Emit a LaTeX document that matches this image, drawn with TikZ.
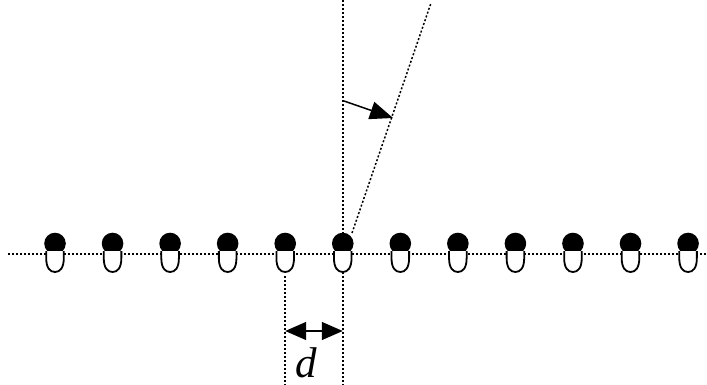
\documentclass[tikz,border=0pt]{standalone}
\usepackage{fontspec}
\setmainfont{Liberation Serif}
\usetikzlibrary{arrows.meta}
\tikzset{every picture/.style={line width=1.5pt}}
\tikzset{
  axis/.style={dash pattern=on 2pt off 2pt},
  bigtip/.style={-{Triangle[length=23pt,width=18pt]}},
  twotip/.style={{Triangle[length=21pt,width=18pt]}-{Triangle[length=21pt,width=18pt]}},
}

\begin{document}
\begin{tikzpicture}[x=1pt,y=-1pt]
\useasboundingbox (0,0) rectangle (707,385);
%
\foreach \i in {1,...,12}
  \coordinate (dp\i) at ({55+57.55*(\i-1)},254);
\coordinate (left) at (8,254);
\coordinate (right) at (707,254);
\coordinate (top) at (0,0);
\coordinate (bot) at (0,385);
\coordinate (low) at (0,276);
\coordinate (tb) at (352,233);
\coordinate (tt) at (431,3);
\coordinate (rs) at (344,101);
\coordinate (re) at (393,118);
%
\draw[axis] (left) -- (right);
\draw[axis] (dp6 |- top) -- (dp6 |- bot);
\draw[axis] (dp5 |- low) -- (dp5 |- bot);
\draw[axis] (tb) -- (tt);
%
\foreach \i in {1,...,12}{
\begin{scope}[shift={(dp\i)}]
  \fill (0,-10.5) circle[radius=10.8];
  \draw[fill=white,line width=1.8pt] (-8.8,-3) -- (-8.8,4) .. controls (-8.8,14) and (-5,18) .. (0,18) .. controls (5,18) and (8.8,14) .. (8.8,4) -- (8.8,-3);
\end{scope}
}
%
\draw[bigtip] (rs) -- (re);
\coordinate (dl) at (dp5 |- 0,331);
\coordinate (dr) at (dp6 |- 0,331);
\draw[twotip] (dl) -- (dr);
\node[anchor=base] (dlabel) at (306,377) {\fontsize{43}{43}\selectfont\itshape d};
\end{tikzpicture}
\end{document}
